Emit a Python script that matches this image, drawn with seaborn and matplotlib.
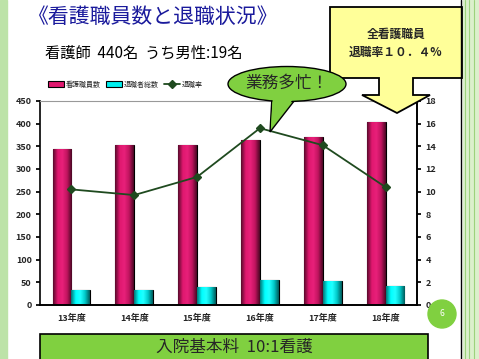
import numpy as np
import pandas as pd
import matplotlib.pyplot as plt
import seaborn as sns
from matplotlib.patches import Rectangle, Polygon, Ellipse, Circle

years = ["13年度", "14年度", "15年度", "16年度", "17年度", "18年度"]
staff = [344, 352, 354, 365, 370, 403]
retired = [34, 34, 39, 56, 52, 41]
rate = [10.2, 9.7, 11.3, 15.6, 14.1, 10.4]
series_names = ["看護職員数", "退職者総数", "退職率"]

df = pd.DataFrame({
    "year": years * 2,
    "value": staff + retired,
    "series": [series_names[0]] * 6 + [series_names[1]] * 6,
})

sns.set_theme(style="white")
plt.rcParams["font.family"] = ["Noto Sans CJK JP", "DejaVu Sans"]

W, H = 479, 359
fig = plt.figure(figsize=(W / 100, H / 100), dpi=100)
fig.patch.set_facecolor("white")

ax = fig.add_axes([40 / W, (H - 305) / H, (417 - 40) / W, (305 - 101) / H])
sns.barplot(data=df, x="year", y="value", hue="series", ax=ax, width=0.6,
            palette=["#E0186F", "#00F0F0"], edgecolor="black", linewidth=0.8,
            saturation=1, legend=True)

# gradient shading on bars
grads = {0: ["#5A0A2C", "#E0186F", "#E8207A", "#C0145E", "#4A0824"],
         1: ["#007878", "#00FFFF", "#20FFFF", "#00C8C8", "#005A5A"]}
for i, p in enumerate(ax.patches[:12]):
    g = grads[i // 6]
    cm = plt.matplotlib.colors.LinearSegmentedColormap.from_list("g", g)
    x0, y0 = p.get_x(), p.get_y()
    im = ax.imshow(np.linspace(0, 1, 64).reshape(1, -1), cmap=cm, aspect="auto",
                   extent=(x0, x0 + p.get_width(), y0, y0 + p.get_height()), zorder=2)
    im.set_clip_path(p)

ax.set_xlim(-0.5, 5.5)
ax.set_ylim(0, 450)
ax.set_yticks(range(0, 451, 50))
ax.set_xlabel("")
ax.set_ylabel("")
ax.tick_params(axis="both", labelsize=6.5, length=3, direction="out", color="black", pad=3)
ax.tick_params(axis="x", length=0, pad=6)
for lab in ax.get_xticklabels() + ax.get_yticklabels():
    lab.set_fontweight("bold")
ax.set_xticks(np.arange(-0.5, 6, 1), minor=True)
ax.tick_params(axis="x", which="minor", length=3, direction="in", color="black")
for s in ["left", "bottom", "right"]:
    ax.spines[s].set_color("black")
    ax.spines[s].set_linewidth(1.2)
ax.spines["top"].set_color("#999999")
ax.spines["top"].set_linewidth(0.8)
ax.grid(False)

ax2 = ax.twinx()
sns.pointplot(x=years, y=rate, ax=ax2, color="#1F4A1F", markers="D",
              linestyles="-", markersize=4, linewidth=1.3, label=series_names[2])
if ax2.get_legend() is not None:
    ax2.get_legend().remove()
ax2.set_ylim(0, 18)
ax2.set_xlim(-0.5, 5.5)
ax2.set_yticks(range(0, 19, 2))
ax2.tick_params(axis="y", labelsize=6.5, length=3, color="black", pad=3)
for lab in ax2.get_yticklabels():
    lab.set_fontweight("bold")
ax2.spines["right"].set_color("black")
ax2.spines["right"].set_linewidth(1.2)
ax2.spines["bottom"].set_color("black")
ax2.spines["bottom"].set_linewidth(1.2)
ax2.spines["left"].set_visible(False)
ax2.spines["top"].set_visible(False)
ax2.grid(False)

h1, l1 = ax.get_legend_handles_labels()
h2, l2 = ax2.get_legend_handles_labels()
ax.legend(h1 + h2, l1 + l2, loc="lower left", bbox_to_anchor=(45 / W, (H - 92) / H),
          bbox_transform=fig.transFigure, ncol=3, frameon=False, fontsize=5,
          handlelength=2.2, handleheight=0.8, columnspacing=0.8, handletextpad=0.3,
          borderpad=0)

# overlay for slide decoration
ov = fig.add_axes([0, 0, 1, 1], zorder=5)
ov.set_xlim(0, W)
ov.set_ylim(H, 0)
ov.axis("off")
ov.patch.set_alpha(0)

ov.add_patch(Rectangle((0, 0), 7, H, color="#BDE3A8"))
ov.add_patch(Rectangle((463, 0), 16, H, color="#DCF0CC"))
for xv in [465.5, 469, 474]:
    ov.plot([xv, xv], [0, H], color="#9CD27C", lw=0.8)
ov.plot([461, 461], [0, H], color="black", lw=1)

ov.text(28, 17, "《看護職員数と退職状況》", color="#1A1A9C", fontsize=15,
        va="center", ha="left")
ov.text(45, 53, "看護師  440名  うち男性:19名", color="black", fontsize=11,
        va="center", ha="left")

callout = [(330, 7), (462, 7), (462, 78), (413, 78), (413, 95), (430, 95),
           (397, 113), (362, 95), (379, 95), (379, 78), (330, 78)]
ov.add_patch(Polygon(callout, closed=True, facecolor="#FFFF99", edgecolor="black", lw=1.3))
ov.text(396, 34, "全看護職員", fontsize=8.5, fontweight="bold", ha="center", va="center")
ov.text(396, 52, "退職率１０．４%", fontsize=8.5, fontweight="bold", ha="center", va="center")

ov.add_patch(Polygon([(272, 96), (298, 96), (270, 132)], closed=True,
                     facecolor="#80D040", edgecolor="black", lw=1))
ov.add_patch(Ellipse((287, 84), 118, 35, facecolor="#80D040", edgecolor="black", lw=1))
ov.add_patch(Polygon([(273, 94), (297, 94), (271, 128)], closed=True,
                     facecolor="#80D040", edgecolor="none"))
ov.text(287, 83, "業務多忙！", fontsize=12, ha="center", va="center")

ov.add_patch(Circle((442, 314), 14, color="#80D040"))
ov.text(442, 314, "6", color="white", fontsize=6, ha="center", va="center")

ov.add_patch(Rectangle((40, 334), 388, 30, facecolor="#80D040", edgecolor="black", lw=1.2))
ov.text(234, 347, "入院基本料  10:1看護", fontsize=12, ha="center", va="center")

fig.savefig("out.png", dpi=100)
